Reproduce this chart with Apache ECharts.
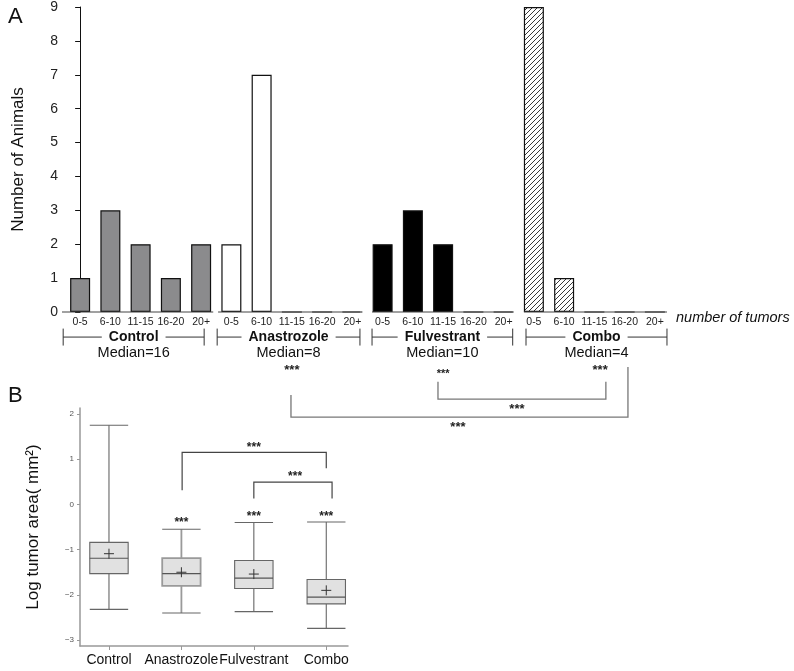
<!DOCTYPE html>
<html><head><meta charset="utf-8">
<script src="https://cdn.jsdelivr.net/npm/echarts@6/dist/echarts.min.js"></script>
<style>html,body{margin:0;padding:0;background:#fff}#c{width:794px;height:671px}</style>
</head><body><div id="c"></div>
<script>
// ---------- data ----------
const bins = ['0-5', '6-10', '11-15', '16-20', '20+'];
const groups = ['Control', 'Anastrozole', 'Fulvestrant', 'Combo'];
const medianTumors = [16, 8, 10, 4];
const controlCounts = [1, 3, 2, 1, 2];
const anastrozoleCounts = [2, 7, 0, 0, 0];
const fulvestrantCounts = [2, 3, 2, 0, 0];
const comboCounts = [9, 1, 0, 0, 0];
const animalTicks = [0, 1, 2, 3, 4, 5, 6, 7, 8, 9];

const boxGroups = ['Control', 'Anastrozole', 'Fulvestrant', 'Combo'];
const logAreaMin = [-2.32, -2.40, -2.37, -2.74];
const logAreaQ1 = [-1.53, -1.80, -1.86, -2.20];
const logAreaMedian = [-1.19, -1.53, -1.63, -2.05];
const logAreaQ3 = [-0.84, -1.19, -1.24, -1.66];
const logAreaMax = [1.75, -0.55, -0.40, -0.39];
const logAreaMean = [-1.09, -1.50, -1.54, -1.90];
const logAreaTicks = [-3, -2, -1, 0, 1, 2];
const sigLabel = '***';

// ---------- annotation layout (data units) ----------
const baselineStart = [-0.6, 4.56, 9.65, 14.67];
const baselineEnd = [4.4, 9.25, 14.3, 19.4];
const spanStart = [-0.56, 4.53, 9.65, 14.74];
const spanEnd = [4.1, 9.25, 14.3, 19.4];
const spanY = -0.74, medianY = -1.21, spanTick = 0.25;
const sigStarsA = [[7.0, -1.71, 13], [12.0, -1.83, 11], [17.19, -1.71, 13], [14.44, -2.86, 13], [12.49, -3.42, 13]];
const sigBracketsA = [
  [[11.83, -2.06], [11.83, -2.57], [17.38, -2.57], [17.38, -2.06]],
  [[6.97, -2.45], [6.97, -3.1], [18.11, -3.1], [18.11, -1.62]]
];
const sigStarsB = [[2, -0.4], [3, -0.27], [4, -0.27], [3.0, 1.26], [3.57, 0.62]];
const sigBracketsB = [
  [[2.01, 0.31], [2.01, 1.15], [4.0, 1.15], [4.0, 0.8]],
  [[3.0, 0.13], [3.0, 0.49], [4.08, 0.49], [4.08, 0.13]]
];

const FONT = '"Liberation Sans", Arial, Helvetica, sans-serif';
const cats = groups.flatMap(g => bins.map(b => g + '|' + b));
const allCounts = [controlCounts, anastrozoleCounts, fulvestrantCounts, comboCounts];

function hatch() {
  const s = 5, c = document.createElement('canvas');
  c.width = c.height = s;
  const ctx = c.getContext('2d');
  ctx.fillStyle = '#fff'; ctx.fillRect(0, 0, s, s);
  ctx.strokeStyle = '#222'; ctx.lineWidth = 0.9;
  ctx.beginPath();
  ctx.moveTo(0, s); ctx.lineTo(s, 0);
  ctx.moveTo(-1, 1); ctx.lineTo(1, -1);
  ctx.moveTo(s - 1, s + 1); ctx.lineTo(s + 1, s - 1);
  ctx.stroke();
  return c;
}
const barFills = ['#8b8b8d', '#ffffff', '#000000', { image: hatch(), repeat: 'repeat' }];

function groupData(gi) {
  return cats.map((c, idx) => Math.floor(idx / 5) === gi ? allCounts[gi][idx % 5] : '-');
}

const barSeries = groups.map((g, gi) => ({
  type: 'bar', name: g, xAxisIndex: 0, yAxisIndex: 0,
  data: groupData(gi), barWidth: 20, barGap: '-100%',
  itemStyle: { color: barFills[gi], borderColor: '#111', borderWidth: 1.2 },
  silent: true
}));

function stars(p, size) {
  return { type: 'text', style: { x: p[0], y: p[1], text: sigLabel, fill: '#222', fontSize: size, fontWeight: 'bold',
    fontFamily: FONT, align: 'center', verticalAlign: 'middle' } };
}

const chart = echarts.init(document.getElementById('c'));
chart.setOption({
  animation: false,
  title: [
    { text: 'A', left: 3, top: 1, textStyle: { fontSize: 22, fontWeight: 'normal', fontFamily: FONT, color: '#111' } },
    { text: 'B', left: 3, top: 380, textStyle: { fontSize: 22, fontWeight: 'normal', fontFamily: FONT, color: '#111' } }
  ],
  grid: [
    { left: 65, top: 7, width: 605, height: 305 },
    { left: 80, top: 408, width: 268, height: 238 }
  ],
  xAxis: [
    { type: 'category', gridIndex: 0, data: cats,
      axisLine: { show: false }, axisTick: { show: false },
      axisLabel: { interval: 0, margin: 5, fontSize: 10.5, color: '#222', fontFamily: FONT,
        formatter: v => v.split('|')[1] } },
    { type: 'value', gridIndex: 0, min: -0.5, max: 19.5, show: false },
    { type: 'value', gridIndex: 1, min: 0.6, max: 4.3, splitLine: { show: false },
      axisLine: { onZero: false, lineStyle: { color: '#999', width: 1.5 } },
      axisTick: { length: 4, lineStyle: { color: '#999' }, customValues: [1, 2, 3, 4] },
      axisLabel: { margin: 7, fontSize: 14, color: '#111', fontFamily: FONT,
        customValues: [1, 2, 3, 4], formatter: v => boxGroups[Math.round(v) - 1] } }
  ],
  yAxis: [
    { type: 'value', gridIndex: 0, min: 0, max: 9, interval: 1, offset: 3,
      splitLine: { show: false },
      axisLine: { show: true, lineStyle: { color: '#111', width: 1 } },
      axisTick: { show: true, length: 5, lineStyle: { color: '#111' } },
      axisLabel: { margin: 4, fontSize: 14, color: '#222', fontFamily: FONT,
        customValues: animalTicks },
      name: 'Number of Animals', nameLocation: 'middle', nameGap: 35,
      nameTextStyle: { fontSize: 17, color: '#111', fontFamily: FONT } },
    { type: 'value', gridIndex: 1, min: -3.13, max: 2.13,
      splitLine: { show: false },
      axisLine: { show: true, onZero: false, lineStyle: { color: '#999', width: 1.5 } },
      axisTick: { show: true, length: 3, lineStyle: { color: '#999' }, customValues: logAreaTicks },
      axisLabel: { margin: 6, fontSize: 8, color: '#555', fontFamily: FONT,
        customValues: logAreaTicks, formatter: v => v < 0 ? '\u2212' + Math.abs(v) : String(v) },
      name: 'Log tumor area( mm\u00b2)', nameLocation: 'middle', nameGap: 38,
      nameTextStyle: { fontSize: 17, color: '#111', fontFamily: FONT } }
  ],
  series: [
    ...barSeries,
    { type: 'custom', xAxisIndex: 1, yAxisIndex: 0, silent: true, z: 5,
      data: groups.map((g, i) => [i]),
      renderItem: (params, api) => {
        const i = params.dataIndex;
        const b0 = api.coord([baselineStart[i], 0]), b1 = api.coord([baselineEnd[i], 0]);
        const s0 = api.coord([spanStart[i], spanY]), s1 = api.coord([spanEnd[i], spanY]);
        const t0 = api.coord([spanStart[i], spanY + spanTick]), t1 = api.coord([spanStart[i], spanY - spanTick]);
        const u0 = api.coord([spanEnd[i], spanY + spanTick]), u1 = api.coord([spanEnd[i], spanY - spanTick]);
        const mid = (spanStart[i] + spanEnd[i]) / 2;
        const nm = api.coord([mid, spanY]), md = api.coord([mid, medianY]);
        return { type: 'group', children: [
          { type: 'line', shape: { x1: b0[0], y1: b0[1], x2: b1[0], y2: b1[1] }, style: { stroke: '#444', lineWidth: 1.2 } },
          { type: 'line', shape: { x1: s0[0], y1: s0[1], x2: s1[0], y2: s1[1] }, style: { stroke: '#333', lineWidth: 1 } },
          { type: 'line', shape: { x1: t0[0], y1: t0[1], x2: t1[0], y2: t1[1] }, style: { stroke: '#333', lineWidth: 1 } },
          { type: 'line', shape: { x1: u0[0], y1: u0[1], x2: u1[0], y2: u1[1] }, style: { stroke: '#333', lineWidth: 1 } },
          { type: 'text', style: { x: nm[0], y: nm[1], text: groups[i], fill: '#111', fontSize: 14, fontWeight: 'bold', fontFamily: FONT,
              align: 'center', verticalAlign: 'middle', backgroundColor: '#fff', padding: [0, 7] } },
          { type: 'text', style: { x: md[0], y: md[1], text: 'Median=' + medianTumors[i], fill: '#111', fontSize: 14.5, fontFamily: FONT,
              align: 'center', verticalAlign: 'middle' } }
        ] };
      } },
    { type: 'custom', xAxisIndex: 1, yAxisIndex: 0, silent: true, z: 5,
      data: [[0]],
      renderItem: (params, api) => {
        const kids = [];
        const nt = api.coord([19.7, -0.18]);
        kids.push({ type: 'text', style: { x: nt[0], y: nt[1], text: 'number of tumors', fill: '#111', fontSize: 14.5, fontStyle: 'italic', fontFamily: FONT, align: 'left', verticalAlign: 'middle' } });
        sigStarsA.forEach(s => kids.push(stars(api.coord([s[0], s[1]]), s[2])));
        sigBracketsA.forEach(br => {
          kids.push({ type: 'polyline', shape: { points: br.map(pt => api.coord(pt)) }, style: { stroke: '#777', lineWidth: 1.3, fill: null } });
        });
        return { type: 'group', children: kids };
      } },
    { type: 'custom', xAxisIndex: 2, yAxisIndex: 1, silent: true,
      encode: { x: 0, y: [1, 2, 3, 4, 5, 6] },
      data: boxGroups.map((g, i) => [i + 1, logAreaMin[i], logAreaQ1[i], logAreaMedian[i], logAreaQ3[i], logAreaMax[i], logAreaMean[i]]),
      renderItem: (params, api) => {
        const x = api.value(0);
        const w = api.size([1, 0])[0] * 0.53 / 2;
        const pMin = api.coord([x, api.value(1)]), pQ1 = api.coord([x, api.value(2)]);
        const pMed = api.coord([x, api.value(3)]), pQ3 = api.coord([x, api.value(4)]);
        const pMax = api.coord([x, api.value(5)]), pMean = api.coord([x, api.value(6)]);
        const cx = pMin[0];
        const light = params.dataIndex === 1;
        const st = light ? '#9a9a9a' : '#666';
        const lw = light ? 1.8 : 1.1;
        const m = 5;
        return { type: 'group', children: [
          { type: 'line', shape: { x1: cx, y1: pMax[1], x2: cx, y2: pQ3[1] }, style: { stroke: st, lineWidth: lw } },
          { type: 'line', shape: { x1: cx, y1: pQ1[1], x2: cx, y2: pMin[1] }, style: { stroke: st, lineWidth: lw } },
          { type: 'line', shape: { x1: cx - w, y1: pMax[1], x2: cx + w, y2: pMax[1] }, style: { stroke: '#666', lineWidth: 1.1 } },
          { type: 'line', shape: { x1: cx - w, y1: pMin[1], x2: cx + w, y2: pMin[1] }, style: { stroke: '#666', lineWidth: 1.1 } },
          { type: 'rect', shape: { x: cx - w, y: pQ3[1], width: 2 * w, height: pQ1[1] - pQ3[1] }, style: { fill: '#e1e1e1', stroke: st, lineWidth: lw } },
          { type: 'line', shape: { x1: cx - w, y1: pMed[1], x2: cx + w, y2: pMed[1] }, style: { stroke: '#555', lineWidth: 1.1 } },
          { type: 'line', shape: { x1: cx - m, y1: pMean[1], x2: cx + m, y2: pMean[1] }, style: { stroke: '#333', lineWidth: 1 } },
          { type: 'line', shape: { x1: cx, y1: pMean[1] - m, x2: cx, y2: pMean[1] + m }, style: { stroke: '#333', lineWidth: 1 } }
        ] };
      } },
    { type: 'custom', xAxisIndex: 2, yAxisIndex: 1, silent: true, z: 5,
      data: [[1, 0]],
      renderItem: (params, api) => {
        const kids = [];
        sigStarsB.forEach(s => kids.push(stars(api.coord(s), 12)));
        sigBracketsB.forEach(br => {
          kids.push({ type: 'polyline', shape: { points: br.map(pt => api.coord(pt)) }, style: { stroke: '#444', lineWidth: 1.2, fill: null } });
        });
        return { type: 'group', children: kids };
      } }
  ]
});
</script>
</body></html>
